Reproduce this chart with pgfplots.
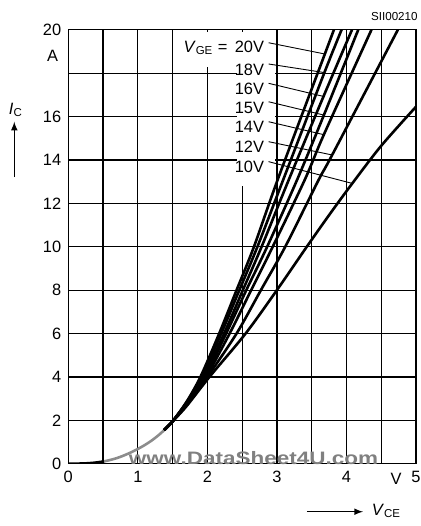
\documentclass[border=0pt]{standalone}
\usepackage{fontspec}
\setmainfont{Liberation Sans}
\usepackage{pgfplots}
\pgfplotsset{compat=1.18}
\tikzset{curve/.style={black, line width=1.3pt, smooth, mark=none, solid}}
\begin{document}
\begin{tikzpicture}
\path[use as bounding box] (-34.15pt,-31.15pt) rectangle (175.85pt,231.85pt);
\begin{axis}[
  at={(0,0)}, anchor=south west,
  scale only axis, width=173.85pt, height=217pt,
  xmin=0, xmax=5, ymin=0, ymax=20,
  xtick={0,1,2,3,4,5}, xticklabels={0,1,2,3,4,5},
  minor xtick={0.5,1.5,2.5,3.5,4.5},
  ytick={0,2,...,20}, yticklabels={0,2,4,6,8,10,12,14,16,,20},
  grid=both,
  major grid style={black, line width=0.6pt},
  minor grid style={black, line width=0.6pt},
  axis line style={black, line width=0.6pt},
  major tick length=0pt, minor tick length=0pt,
  tick label style={font=\fontsize{8.2}{9}\selectfont},
  clip mode=individual,
]
% white areas behind the labels
\fill[white] (axis cs:1.78,18.3) rectangle (axis cs:2.97,19.9);
\fill[white] (axis cs:2.42,12.8) rectangle (axis cs:2.97,18.3);
% common part
\addplot[curve] coordinates {(0,0)(0.1,0.003)(0.2,0.01)(0.3,0.025)(0.4,0.055)(0.52,0.11)};
\addplot[curve, black!45] coordinates {(0.52,0.11)(0.6,0.17)(0.7,0.26)(0.8,0.38)(0.9,0.52)(1.0,0.68)(1.1,0.86)(1.2,1.07)(1.3,1.32)(1.38,1.55)};
% VGE = 20 V
\addplot[curve] coordinates {(1.38,1.55)(1.44,1.75)(1.5,1.95)(1.7,2.85)(1.9,4.0)(2.17,6)(2.42,8)(2.67,10)(3.01,13.08)(3.68,18.8)(3.82,20)};
% 18 V
\addplot[curve] coordinates {(1.38,1.55)(1.44,1.75)(1.5,1.95)(1.7,2.82)(1.92,4.0)(2.2,6)(2.46,8)(2.72,10)(3.09,13.08)(3.68,18.0)(3.93,20)};
% 16 V
\addplot[curve] coordinates {(1.38,1.55)(1.44,1.75)(1.5,1.95)(1.7,2.8)(1.94,4.0)(2.24,6)(2.51,8)(2.78,10)(3.17,13.08)(3.68,17.0)(4.08,20)};
% 15 V
\addplot[curve] coordinates {(1.38,1.55)(1.44,1.75)(1.5,1.95)(1.7,2.78)(1.96,4.0)(2.27,6)(2.56,8)(2.86,10)(3.29,13.08)(3.68,16.1)(4.17,20)};
% 14 V
\addplot[curve] coordinates {(1.38,1.55)(1.44,1.75)(1.5,1.95)(1.7,2.75)(1.98,4.0)(2.32,6)(2.63,8)(2.94,10)(3.40,13.08)(3.68,15.2)(4.36,20)};
% 12 V
\addplot[curve] coordinates {(1.38,1.55)(1.44,1.75)(1.5,1.95)(1.7,2.7)(2.0,4.0)(2.42,6)(2.77,8)(3.12,10)(3.6,13.08)(3.79,14.2)(4.74,20)};
% 10 V
\addplot[curve] coordinates {(1.38,1.55)(1.44,1.75)(1.5,1.95)(1.7,2.65)(2.03,4.0)(2.55,6)(3.0,8)(3.43,10)(3.76,11.5)(4.08,12.9)(4.5,14.65)(5.0,16.45)};
% leaders
\draw[line width=0.45pt] (axis cs:2.88,19.40) -- (axis cs:3.69,18.88);
\draw[line width=0.45pt] (axis cs:2.88,18.42) -- (axis cs:3.67,18.03);
\draw[line width=0.45pt] (axis cs:2.88,17.53) -- (axis cs:3.69,16.91);
\draw[line width=0.45pt] (axis cs:2.88,16.68) -- (axis cs:3.67,16.07);
\draw[line width=0.45pt] (axis cs:2.88,15.76) -- (axis cs:3.69,15.15);
\draw[line width=0.45pt] (axis cs:2.88,14.84) -- (axis cs:3.79,14.23);
\draw[line width=0.45pt] (axis cs:2.88,13.92) -- (axis cs:4.08,12.92);
% labels
\begin{scope}[every node/.style={font=\fontsize{8.2}{9}\selectfont, anchor=east, inner sep=0pt}]
\node at (axis cs:2.82,19.16) {\textit{V}\textsubscript{GE} =\, 20V};
\node at (axis cs:2.82,18.14) {18V};
\node at (axis cs:2.82,17.29) {16V};
\node at (axis cs:2.82,16.41) {15V};
\node at (axis cs:2.82,15.52) {14V};
\node at (axis cs:2.82,14.59) {12V};
\node at (axis cs:2.82,13.67) {10V};
\end{scope}
\end{axis}
% watermark
\node[text=black!50, font=\bfseries\fontsize{9}{9}\selectfont, xscale=1.25, inner sep=0pt] at (92.6pt,2.6pt) {www.DataSheet4U.com};
% axis titles and units
\node[font=\fontsize{8.2}{9}\selectfont, inner sep=0pt] at (-26.2pt,176.9pt) {\textit{I}\textsubscript{C}};
\draw[line width=0.5pt, -{latex}] (-27pt,143.3pt) -- (-27pt,171pt);
\node[font=\fontsize{8.2}{9}\selectfont, inner sep=0pt] at (-7.9pt,203.85pt) {A};
\node[font=\fontsize{8.2}{9}\selectfont, inner sep=0pt] at (163.85pt,-7.65pt) {V};
\draw[line width=0.5pt, -{latex}] (119.35pt,-24pt) -- (147.35pt,-24pt);
\node[font=\fontsize{8.2}{9}\selectfont, anchor=west, inner sep=0pt] at (151.6pt,-23.5pt) {\textit{V}\textsubscript{CE}};
\node[font=\fontsize{5.8}{6}\selectfont, anchor=east, inner sep=0pt] at (174.85pt,223.35pt) {SII00210};
\end{tikzpicture}
\end{document}
